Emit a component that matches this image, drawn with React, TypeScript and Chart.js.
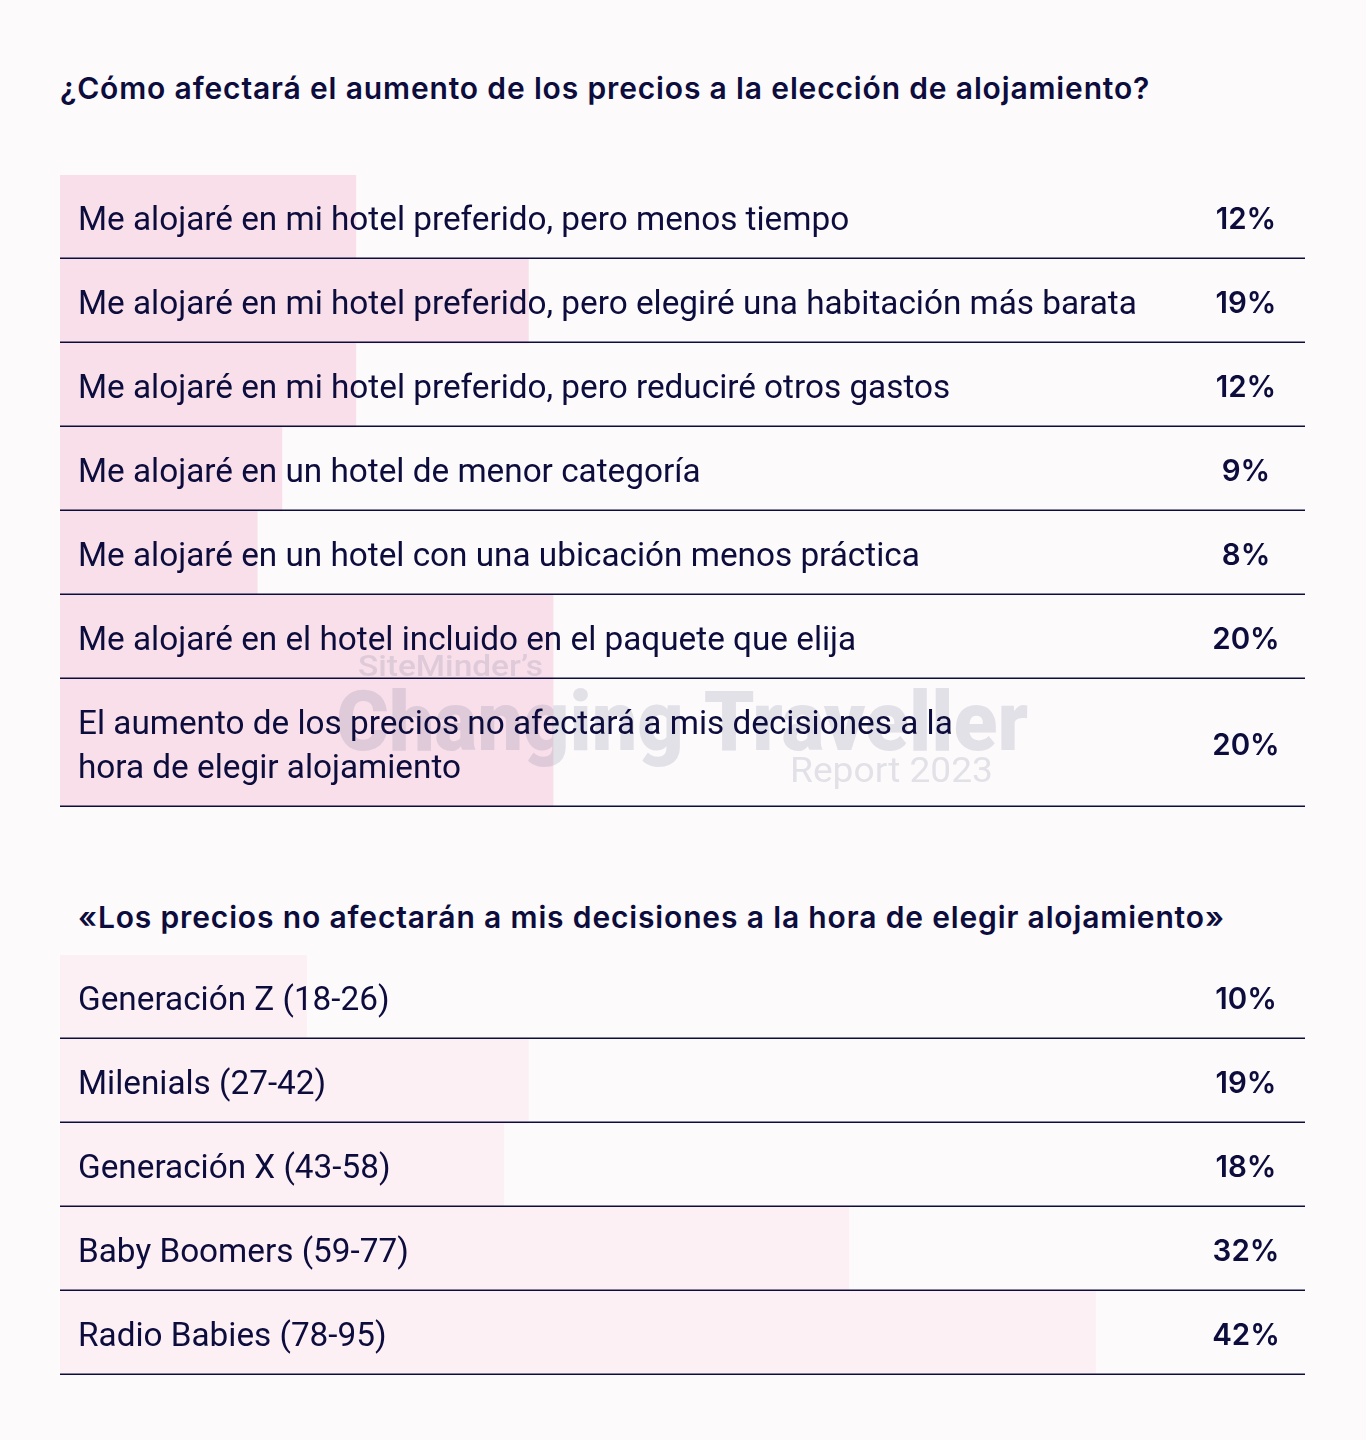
import React, { useEffect, useRef } from "react";
import { Chart, registerables } from "chart.js";

Chart.register(...registerables);

const TITLE_CHOICES = "¿Cómo afectará el aumento de los precios a la elección de alojamiento?";
const CHOICE_LABELS: string[][] = [
  ["Me alojaré en mi hotel preferido, pero menos tiempo"],
  ["Me alojaré en mi hotel preferido, pero elegiré una habitación más barata"],
  ["Me alojaré en mi hotel preferido, pero reduciré otros gastos"],
  ["Me alojaré en un hotel de menor categoría"],
  ["Me alojaré en un hotel con una ubicación menos práctica"],
  ["Me alojaré en el hotel incluido en el paquete que elija"],
  ["El aumento de los precios no afectará a mis decisiones a la", "hora de elegir alojamiento"],
];
const CHOICE_VALUES = [12, 19, 12, 9, 8, 20, 20];

const TITLE_GENERATIONS = "«Los precios no afectarán a mis decisiones a la hora de elegir alojamiento»";
const GEN_LABELS: string[][] = [
  ["Generación Z (18-26)"],
  ["Milenials (27-42)"],
  ["Generación X (43-58)"],
  ["Baby Boomers (59-77)"],
  ["Radio Babies (78-95)"],
];
const GEN_VALUES = [10, 19, 18, 32, 42];

const AXIS_MAX = 50.5;

const BG = "#fdfafb";
const INK = "#0c0c3d";
const LABEL_FONT = "Roboto, 'Noto Sans', sans-serif";
const BOLD_FONT = "Inter, Roboto, sans-serif";

const ROW_BASE = 40;
const LINE_H = 44;
const PAGE_W = 1366;

function drawFitted(ctx: CanvasRenderingContext2D, text: string, x: number, y: number, size: number, weight: number, width: number) {
  ctx.save();
  ctx.font = `${weight} ${size}px ${LABEL_FONT}`;
  const w = ctx.measureText(text).width;
  ctx.translate(x, y);
  ctx.scale(width / w, 1);
  ctx.textAlign = "left";
  ctx.textBaseline = "alphabetic";
  ctx.fillText(text, 0, 0);
  ctx.restore();
}

function RowBars(props: { labels: string[][]; values: number[]; color: string; watermark?: boolean; top: number }) {
  const ref = useRef<HTMLCanvasElement | null>(null);
  const { labels, values, color, watermark, top } = props;
  const heights = labels.map((l) => ROW_BASE + LINE_H * l.length);
  const tops: number[] = [];
  heights.reduce((acc, h) => {
    tops.push(acc);
    return acc + h;
  }, 0);
  const total = heights.reduce((a, b) => a + b, 0);
  const canvasH = total + 2;

  useEffect(() => {
    const canvas = ref.current;
    if (!canvas) return;
    const groups = new Map<number, { x: number; y: number }[]>();
    labels.forEach((l, i) => {
      const n = l.length;
      if (!groups.has(n)) groups.set(n, []);
      groups.get(n)!.push({ x: values[i], y: tops[i] + heights[i] / 2 });
    });
    const datasets = Array.from(groups.entries()).map(([n, data]) => ({
      data,
      barThickness: ROW_BASE + LINE_H * n,
      backgroundColor: color,
      borderWidth: 0,
      grouped: false,
    }));

    const rowsPlugin = {
      id: "rowsDecor",
      afterDatasetsDraw(chart: any) {
        const ctx: CanvasRenderingContext2D = chart.ctx;
        const { left, right } = chart.chartArea;
        const ys = chart.scales.y;
        ctx.save();
        if (watermark) {
          ctx.fillStyle = "rgba(110,105,150,0.175)";
          drawFitted(ctx, "SiteMinder’s", 358, 676 - top, 29, 500, 185);
          drawFitted(ctx, "Changing Traveller", 336, 750 - top, 84, 900, 692);
          drawFitted(ctx, "Report 2023", 790, 782 - top, 35, 400, 203);
        }
        // separators
        ctx.strokeStyle = INK;
        ctx.lineWidth = 1.4;
        labels.forEach((_, i) => {
          const yb = Math.round(ys.getPixelForValue(tops[i] + heights[i])) - 0.7;
          ctx.beginPath();
          ctx.moveTo(left, yb);
          ctx.lineTo(right, yb);
          ctx.stroke();
        });
        // labels and values
        ctx.fillStyle = INK;
        ctx.textBaseline = "alphabetic";
        labels.forEach((lines, i) => {
          const cy = ys.getPixelForValue(tops[i] + heights[i] / 2);
          ctx.font = `400 33.3px ${LABEL_FONT}`;
          ctx.textAlign = "left";
          lines.forEach((t, k) => {
            const ly = cy + (k - (lines.length - 1) / 2) * LINE_H;
            ctx.fillText(t, left + 18, ly + 12.5);
          });
          ctx.font = `600 29.5px ${BOLD_FONT}`;
          ctx.textAlign = "center";
          ctx.fillText(`${values[i]}%`, 1246, cy + 11.5);
        });
        ctx.restore();
      },
    };

    const chart = new Chart(canvas, {
      type: "bar",
      data: { datasets: datasets as any },
      options: {
        indexAxis: "y",
        animation: false,
        responsive: false,
        devicePixelRatio: 1,
        layout: { padding: { left: 60, right: PAGE_W - 1305, top: 0, bottom: 2 } },
        plugins: { legend: { display: false }, tooltip: { enabled: false }, title: { display: false } },
        scales: {
          x: { type: "linear", min: 0, max: AXIS_MAX, display: false, grid: { display: false } },
          y: { type: "linear", min: 0, max: total, reverse: true, offset: false, display: false, grid: { display: false } },
        },
      } as any,
      plugins: [rowsPlugin],
    });
    return () => chart.destroy();
  }, []);

  return (
    <canvas
      ref={ref}
      width={PAGE_W}
      height={canvasH}
      style={{ position: "absolute", left: 0, top, width: PAGE_W, height: canvasH }}
    />
  );
}

export default function App() {
  const titleStyle: React.CSSProperties = {
    position: "absolute",
    margin: 0,
    fontFamily: BOLD_FONT,
    fontWeight: 600,
    fontSize: 30,
    lineHeight: "30px",
    letterSpacing: "0.85px",
    color: INK,
    whiteSpace: "nowrap",
  };
  return (
    <div style={{ position: "relative", width: PAGE_W, height: 1440, background: BG, overflow: "hidden" }}>
      <style>{`html,body{margin:0;padding:0;background:${BG};}`}</style>
      <div style={{ ...titleStyle, left: 60, top: 73 }}>{TITLE_CHOICES}</div>
      <RowBars labels={CHOICE_LABELS} values={CHOICE_VALUES} color="#f8dfe9" watermark top={175} />
      <div style={{ ...titleStyle, left: 78, top: 902 }}>{TITLE_GENERATIONS}</div>
      <RowBars labels={GEN_LABELS} values={GEN_VALUES} color="#fcf0f4" top={955} />
    </div>
  );
}
